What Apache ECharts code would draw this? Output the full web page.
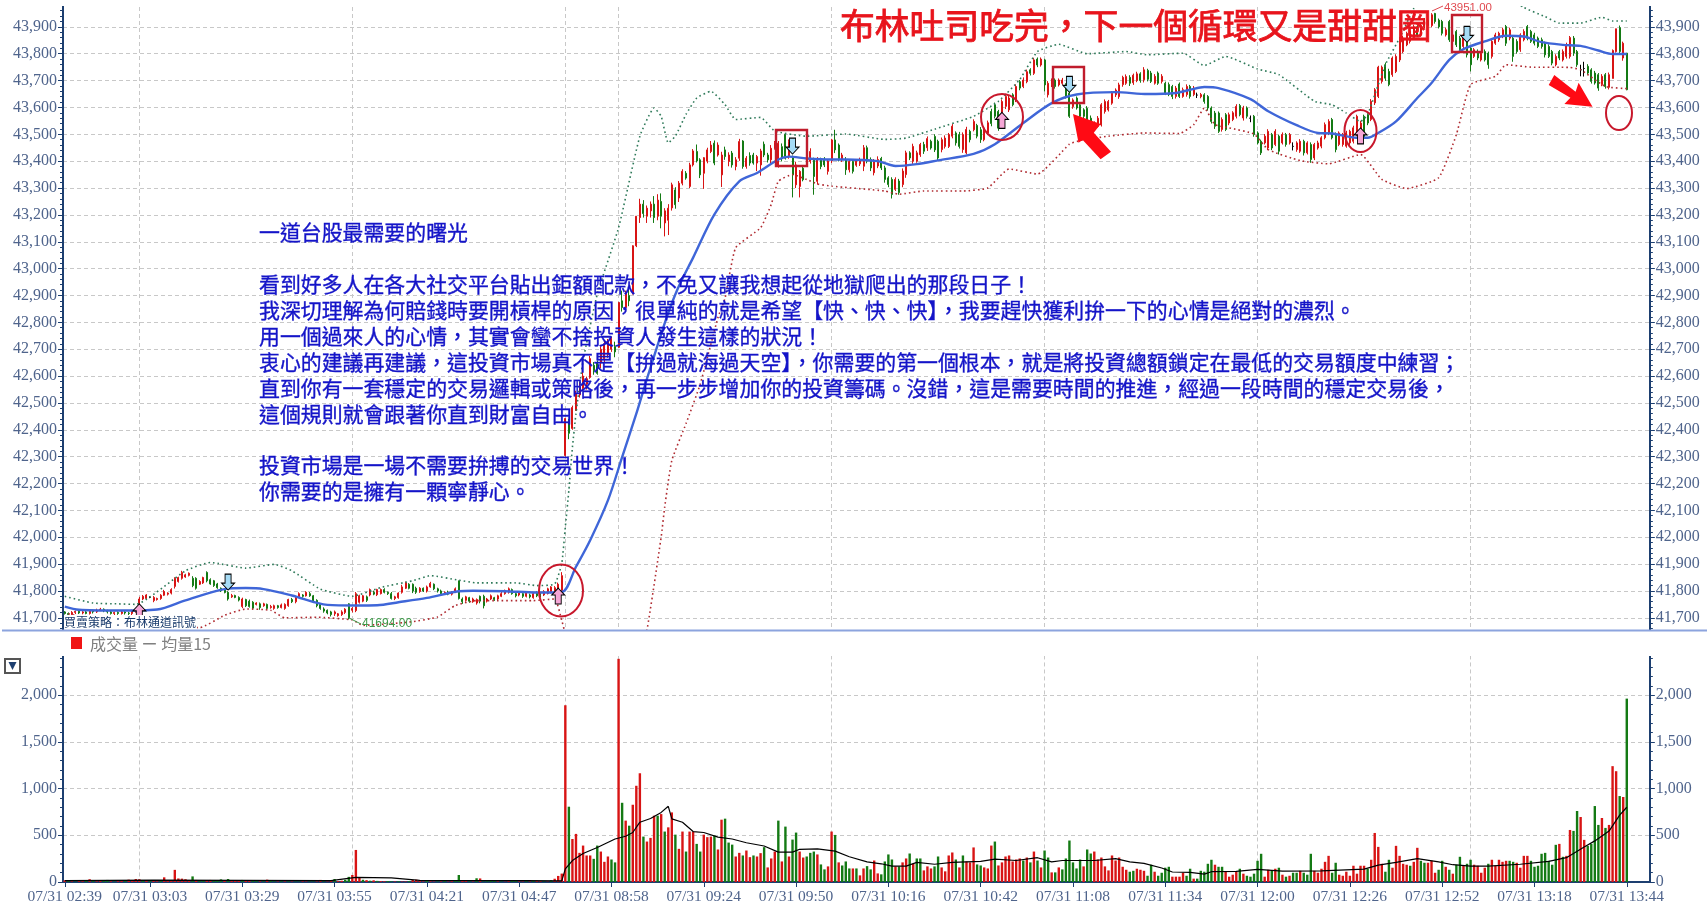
<!DOCTYPE html>
<html lang="zh-TW"><head><meta charset="utf-8">
<style>html,body{margin:0;padding:0;background:#fff}#c{width:1707px;height:905px}</style>
<script src="https://cdn.jsdelivr.net/npm/echarts@6/dist/echarts.min.js"></script>
</head><body><div id="c"></div>
<script>
const tickIndex=[0,24,50,76,102,128,154,180,206,232,258,284,310,336,362,388,414,440];
const tickLabels=['07/31 02:39','07/31 03:03','07/31 03:29','07/31 03:55','07/31 04:21','07/31 04:47','07/31 08:58','07/31 09:24','07/31 09:50','07/31 10:16','07/31 10:42','07/31 11:08','07/31 11:34','07/31 12:00','07/31 12:26','07/31 12:52','07/31 13:18','07/31 13:44'];
const hourIndex=[21,81,141,156,216,276,336,396];
const opens=[
41722,41716,41712,41720,41724,41718,41722,41716,41726,41722,
41728,41732,41726,41722,41716,41720,41716,41722,41718,41716,
41724,41733,41770,41772,41776,41764,41768,41772,41784,41788,
41792,41817,41835,41847,41852,41858,41847,41847,41825,41830,
41869,41842,41838,41826,41810,41806,41795,41778,41783,41776,
41742,41768,41762,41758,41750,41752,41745,41750,41738,41735,
41745,41738,41735,41745,41768,41760,41778,41785,41782,41790,
41782,41765,41750,41733,41728,41722,41715,41708,41712,41720,
41752,41728,41727,41758,41762,41778,41785,41795,41786,41790,
41805,41795,41790,41772,41775,41795,41810,41825,41825,41810,
41798,41810,41800,41815,41825,41808,41800,41790,41795,41788,
41795,41838,41770,41765,41775,41760,41755,41780,41780,41762,
41770,41775,41770,41780,41790,41795,41805,41790,41785,41790,
41780,41785,41775,41795,41790,41785,41790,41795,41790,41800,
41801,42304,42435,42405,42472,42530,42555,42570,42595,42640,
42650,42650,42665,42680,42700,42710,42707,42880,42855,42900,
42906,43085,43190,43240,43195,43215,43240,43195,43250,43170,
43180,43226,43293,43263,43318,43355,43306,43386,43436,43405,
43355,43400,43436,43467,43423,43349,43442,43399,43430,43380,
43411,43475,43380,43421,43423,43393,43386,43463,43423,43405,
43448,43386,43454,43500,43417,43417,43312,43306,43374,43467,
43399,43405,43325,43405,43405,43362,43401,43479,43460,43405,
43405,43368,43399,43385,43390,43381,43450,43406,43357,43382,
43410,43375,43338,43332,43295,43326,43313,43350,43431,43400,
43400,43424,43462,43450,43474,43492,43474,43443,43455,43455,
43493,43505,43499,43443,43431,43511,43517,43533,43517,43480,
43505,43585,43610,43585,43572,43604,43591,43647,43628,43696,
43678,43696,43740,43727,43780,43758,43777,43647,43684,43702,
43684,43690,43684,43653,43603,43635,43610,43591,43597,43560,
43520,43530,43535,43585,43591,43616,43647,43640,43685,43690,
43712,43692,43700,43725,43703,43738,43728,43690,43728,43697,
43690,43685,43678,43641,43687,43641,43648,43678,43648,43646,
43640,43647,43641,43598,43579,43579,43518,43573,43542,43555,
43567,43607,43561,43598,43560,43567,43505,43474,43468,43449,
43499,43462,43493,43468,43499,43468,43455,43443,43437,43474,
43431,43462,43412,43449,43456,43487,43505,43555,43499,43462,
43462,43456,43468,43474,43499,43487,43567,43573,43555,43617,
43641,43697,43759,43734,43722,43734,43777,43808,43833,43846,
43860,43900,43870,43900,43925,43905,43950,43925,43920,43870,
43920,43846,43883,43858,43827,43846,43821,43790,43808,43777,
43808,43802,43790,43839,43852,43864,43901,43858,43858,43846,
43815,43852,43901,43883,43870,43858,43852,43839,43827,43808,
43759,43808,43777,43790,43790,43858,43808,43740,43745,43753,
43740,43728,43722,43685,43722,43675,43708,43808,43897,43784,
43802];
const closes=[
41716,41712,41720,41724,41718,41722,41716,41726,41722,41728,
41732,41726,41722,41716,41720,41716,41722,41718,41716,41724,
41730,41770,41780,41785,41776,41776,41772,41784,41798,41792,
41805,41847,41850,41869,41860,41866,41820,41810,41835,41850,
41838,41826,41820,41812,41800,41794,41770,41783,41776,41766,
41770,41745,41742,41736,41755,41738,41752,41735,41742,41745,
41738,41748,41750,41768,41760,41778,41790,41780,41795,41782,
41760,41745,41735,41725,41718,41712,41722,41715,41722,41732,
41700,41735,41790,41782,41782,41765,41805,41788,41805,41805,
41795,41790,41772,41778,41792,41815,41830,41810,41800,41795,
41810,41800,41815,41828,41808,41800,41790,41795,41788,41795,
41808,41772,41760,41778,41762,41770,41768,41762,41745,41770,
41782,41768,41782,41790,41802,41808,41790,41782,41792,41780,
41792,41778,41790,41782,41782,41798,41808,41815,41812,41825,
41857,42442,42387,42483,42535,42560,42600,42590,42665,42620,
42610,42700,42720,42730,42740,42690,42874,42855,42910,42880,
43085,43195,43240,43205,43225,43240,43190,43255,43195,43215,
43225,43312,43238,43318,43362,43337,43386,43438,43401,43349,
43413,43442,43460,43393,43460,43423,43417,43423,43386,43405,
43473,43380,43411,43393,43393,43417,43438,43423,43405,43448,
43470,43467,43411,43411,43473,43349,43386,43362,43331,43411,
43436,43343,43405,43380,43386,43401,43479,43442,43405,43423,
43368,43399,43362,43400,43405,43450,43400,43375,43400,43406,
43375,43332,43313,43276,43332,43283,43363,43431,43412,43455,
43431,43462,43437,43484,43449,43442,43412,43480,43486,43499,
43530,43468,43455,43499,43518,43480,43548,43493,43480,43523,
43543,43540,43567,43523,43622,43641,43635,43610,43678,43672,
43702,43733,43727,43777,43758,43780,43684,43690,43702,43678,
43702,43702,43641,43567,43628,43598,43567,43567,43548,43530,
43540,43560,43610,43622,43622,43653,43665,43684,43712,43715,
43690,43720,43725,43700,43740,43705,43697,43716,43690,43716,
43654,43648,43641,43672,43641,43666,43678,43641,43672,43646,
43648,43622,43598,43548,43530,43511,43555,43518,43573,43580,
43604,43573,43598,43567,43560,43499,43468,43431,43493,43511,
43449,43511,43437,43499,43462,43499,43455,43468,43474,43431,
43468,43406,43462,43468,43487,43536,43548,43487,43443,43505,
43499,43505,43511,43524,43567,43542,43487,43542,43623,43666,
43750,43750,43709,43685,43784,43790,43852,43858,43876,43883,
43900,43870,43905,43925,43905,43945,43920,43900,43876,43889,
43852,43870,43833,43815,43870,43796,43759,43815,43784,43802,
43777,43759,43846,43870,43876,43889,43839,43889,43790,43808,
43870,43883,43858,43846,43839,43827,43827,43796,43790,43765,
43790,43784,43808,43833,43860,43802,43759,43740,43745,43728,
43697,43691,43672,43716,43678,43722,43812,43893,43808,43839,
43666];
const lowWick=[
4,5,3,6,4,5,3,4,6,4,3,5,6,4,8,5,4,6,10,6,
5,6,4,5,3,6,4,5,3,5,5,8,4,5,3,4,6,5,3,4,
6,3,5,4,4,3,6,4,3,5,6,5,4,5,4,8,4,5,4,5,
4,3,5,4,5,6,4,5,3,4,5,6,5,6,5,7,8,4,5,6,
6,8,6,5,4,6,5,4,5,3,4,5,4,6,4,5,3,4,8,6,
5,4,6,3,5,6,4,5,4,5,3,4,8,5,6,4,6,8,10,5,
4,5,6,3,4,5,4,6,5,6,4,6,4,5,6,4,3,4,6,3,
6,4,22,5,2,10,10,20,5,15,5,20,15,12,10,20,3,15,10,20,
2,5,20,15,25,25,20,15,45,50,55,10,15,15,8,6,6,6,6,12,
58,8,6,8,6,45,12,18,10,14,10,8,8,10,6,30,40,8,10,15,
5,10,12,5,8,84,12,41,6,8,8,68,12,10,8,12,8,12,6,8,
19,10,8,6,8,18,8,12,10,8,8,12,10,15,6,8,10,12,8,10,
6,8,10,12,6,8,10,10,8,6,8,10,8,12,6,10,6,8,12,6,
8,10,8,10,8,10,8,6,8,8,6,6,8,6,8,6,24,10,8,8,
6,6,8,6,8,6,10,8,8,10,5,5,6,8,6,6,8,8,8,6,
10,8,6,8,10,8,6,5,6,8,8,6,10,8,6,5,8,8,6,11,
6,8,10,8,10,6,8,6,8,6,8,6,10,8,15,8,6,8,6,8,
8,6,12,6,8,6,15,8,6,10,6,12,8,6,8,6,8,6,10,6,
8,6,10,8,6,8,10,8,6,8,6,8,10,6,8,6,8,6,5,8,
6,8,6,5,8,6,8,6,8,6,8,6,8,10,6,10,25,6,8,6,
6,15,8,6,8,6,10,8,20,8,8,6,8,6,8,6,8,10,6,8,
6,8,6,8,8,10,8,24,30,6,8,6,10,6,8,8,0,4,8,10,
2];
const highWick=[
3,4,5,3,6,4,5,3,4,6,5,3,4,6,3,4,5,3,4,6,
3,8,5,3,4,5,3,4,6,3,5,4,3,6,4,3,8,4,5,3,
4,5,3,4,3,5,4,6,3,4,5,3,6,4,3,5,4,3,6,4,
3,5,4,3,6,4,5,3,4,6,3,4,5,6,3,4,5,3,6,4,
2,5,6,4,3,5,4,6,3,4,5,3,6,4,3,8,5,4,3,6,
4,3,5,6,3,4,5,3,6,4,5,0,6,4,3,5,4,3,6,4,
5,3,4,6,3,5,4,6,3,4,6,5,3,4,6,5,4,3,6,6,
13,3,5,7,10,20,25,8,10,12,8,10,12,8,6,18,2,38,8,30,
2,1,20,15,10,10,30,22,30,10,15,8,10,8,8,8,8,7,26,6,
2,8,15,10,10,12,12,10,8,10,10,3,8,12,8,6,8,10,8,12,
5,8,12,3,8,4,12,5,8,8,12,8,10,8,10,6,4,38,6,8,
10,8,6,6,8,10,8,8,8,12,6,8,6,8,8,8,10,8,6,10,
8,6,10,8,6,8,6,8,10,6,8,6,10,8,10,6,8,6,10,6,
8,10,8,6,8,10,8,6,8,6,10,8,6,8,6,6,4,8,6,6,
6,8,6,8,6,6,8,6,8,10,8,8,6,8,6,8,6,8,6,8,
8,6,8,6,10,6,8,8,6,8,6,8,6,8,6,8,8,6,8,9,
6,6,5,6,8,6,8,6,8,6,8,6,8,6,10,5,6,6,8,8,
6,8,6,8,6,6,15,6,8,6,6,8,6,8,6,8,8,6,8,6,
6,8,6,8,6,8,6,5,8,6,5,6,8,10,6,8,6,8,6,6,
8,6,6,8,6,6,2,6,6,8,6,8,6,8,6,8,6,6,8,6,
8,6,8,8,6,8,6,8,6,8,6,8,6,6,8,6,8,6,8,6,
8,6,8,8,6,8,6,19,25,8,6,8,6,8,6,8,4,0,8,6,
1];
const volumes=[
18,12,8,6,10,9,14,30,10,8,12,20,22,8,6,9,12,10,25,14,
32,30,16,10,12,10,8,14,50,16,14,130,38,36,30,14,60,22,15,10,
14,22,12,18,28,20,32,20,14,18,22,12,14,10,9,8,8,25,10,7,
6,9,7,8,6,6,5,8,6,7,6,7,22,8,6,20,32,10,14,24,
55,75,343,50,24,20,14,18,12,9,8,10,7,6,8,5,6,9,22,25,
18,6,12,8,5,6,7,10,5,9,12,75,14,10,8,6,40,38,6,8,
10,12,8,6,4,10,16,18,8,6,9,7,12,14,10,8,6,18,35,65,
90,1892,806,460,515,312,390,284,284,248,
390,326,216,273,241,210,2389,848,657,603,
827,1030,1164,486,433,472,710,710,727,540,
585,745,507,355,540,326,540,540,408,326,
507,480,486,497,348,667,678,422,400,273,
312,284,337,266,284,273,309,373,156,252,
326,657,220,593,273,454,529,326,262,273,
312,326,295,188,135,167,540,504,210,177,
220,145,145,145,71,145,170,135,230,92,
82,220,295,241,167,167,210,252,305,195,
252,252,124,167,145,167,273,156,114,284,
316,241,156,284,220,210,370,188,177,156,
145,390,433,177,210,273,284,220,241,252,
230,262,210,326,230,156,337,262,103,103,
156,135,252,444,210,145,241,167,348,305,
326,241,262,167,124,284,230,262,163,131,
110,120,142,131,120,67,185,110,67,99,
153,163,57,57,57,99,67,142,36,36,
120,110,195,238,185,163,163,110,57,78,
110,142,89,67,57,89,227,302,57,131,
120,142,153,78,57,67,99,99,120,99,
78,302,120,99,142,216,280,99,206,78,
67,110,67,174,89,174,174,142,238,525,
376,195,110,238,153,387,280,195,185,174,
216,366,227,206,206,227,99,131,227,163,
131,89,185,270,174,195,238,185,174,99,
153,195,238,174,238,216,227,227,216,206,
153,280,280,227,163,174,302,312,227,185,
398,408,270,280,557,547,760,696,451,387,
408,813,611,685,579,611,1240,1186,920,910,
1963];
const volumeSides=
"RGRGRRGRGRRGGRGRRGRRRRGRGRRGRRRRRRRRGRGG"+"RRGGGRGRRRGRRGGRGRGG"+"RGRGRGGRRGGRRGRRGRRG"+"GRRRGRGRGRRGGRGRRGRR"+"RRGRRGRGRRGGRRGRGRGG"+"GGRGRRGGRRGRGRRGRGRR"+
"RRGRRRRRRGGRRRGGRGRG"+"RRRGRRRGRGRRGRRGRRGG"+"RRRGRRGGGRRGRRGRRGRR"+"RGRGRGGRRGGGRGGRRGRG"+"GGRGRRGGRRGGGGRGRRGR"+"GGRRRGGRRRRGRGRRRGGR"+"RRGRRRRRRRGRGRGRGGRG"+"RGGGGGGRGGRRRRRRRRRR"+
"GGRRRGGRGGGGRRRRGGRG"+"GGGGRGGRRRRGRGGGGGRR"+"GRGRGRGGRGGGRRRRRGGR"+"RRRRRRRGRRRRGGRRRRRG"+"RRGGRRRGGRGRGGRGGRRR"+"RGRRRRRGGRRRRGGGGGGG"+"GRGRRGGRRGGGGRGRRRGR"+"G";
const upperPoints=[[0,41780],[8,41755],[15,41752],[20,41750],[34,41875],[41,41906],[51,41885],[59,41899],[64,41875],[72,41807],[81,41780],[89,41813],[98,41838],[103,41857],[111,41840],[116,41830],[127,41830],[133,41820],[138,41826],[140,41903],[141,42038],[142,42175],[143,42335],[144,42460],[146,42657],[150,42905],[156,43152],[162,43493],[166,43598],[168,43567],[170,43468],[172,43493],[175,43574],[178,43635],[182,43660],[186,43610],[189,43555],[196,43563],[200,43512],[209,43493],[220,43501],[231,43481],[237,43486],[245,43519],[256,43567],[263,43623],[269,43704],[274,43808],[280,43835],[288,43800],[299,43808],[305,43796],[315,43802],[321,43756],[327,43790],[336,43743],[342,43722],[352,43623],[357,43610],[361,43579],[365,43548],[367,43573],[372,43759],[376,43858],[380,43969],[384,44060],[396,44100],[406,44020],[411,43972],[417,43938],[421,43914],[427,43914],[433,43936],[436,43922],[440,43922]];
const midPoints=[[0,41742],[4,41730],[15,41727],[26,41731],[34,41765],[45,41807],[51,41811],[56,41807],[64,41783],[74,41748],[82,41746],[88,41747],[94,41758],[102,41774],[111,41799],[115,41801],[124,41799],[133,41794],[140,41796],[144,41890],[148,41989],[153,42137],[157,42298],[161,42460],[164,42590],[167,42715],[170,42835],[173,42935],[177,43041],[183,43202],[190,43325],[195,43356],[201,43406],[204,43417],[209,43410],[216,43406],[220,43406],[229,43400],[234,43382],[240,43389],[246,43403],[256,43427],[262,43463],[270,43542],[278,43616],[285,43648],[296,43657],[305,43650],[313,43654],[317,43666],[321,43676],[325,43672],[334,43631],[339,43586],[347,43534],[353,43505],[357,43503],[364,43487],[367,43487],[370,43505],[375,43548],[381,43635],[385,43691],[390,43777],[394,43817],[400,43846],[406,43867],[411,43864],[416,43843],[422,43833],[427,43829],[432,43812],[436,43799],[440,43799]];
const lowerPoints=[[1,41715],[5,41703],[20,41690],[30,41680],[38,41663],[45,41709],[51,41733],[58,41728],[62,41700],[71,41702],[81,41692],[84,41672],[97,41684],[105,41703],[110,41746],[116,41764],[132,41764],[138,41770],[140,41690],[141,41640],[145,41450],[160,41450],[164,41655],[168,42001],[169,42113],[171,42286],[175,42423],[179,42570],[184,42818],[186,42890],[189,43078],[196,43152],[199,43239],[201,43325],[205,43350],[209,43332],[212,43315],[216,43307],[231,43289],[235,43277],[242,43289],[253,43289],[260,43300],[266,43371],[274,43352],[283,43463],[286,43477],[294,43493],[304,43505],[314,43503],[318,43536],[321,43598],[324,43536],[328,43524],[335,43501],[339,43443],[348,43402],[356,43390],[365,43425],[371,43332],[378,43298],[387,43338],[392,43499],[396,43685],[403,43716],[406,43759],[413,43750],[424,43749],[427,43740],[434,43678],[440,43670]];
const volumeAvgPoints=[[0,15],[25,20],[50,18],[75,15],[82,50],[92,45],[100,18],[130,15],[140,12],[141,140],[143,230],[146,305],[150,370],[155,460],[158,490],[160,530],[162,640],[165,680],[168,745],[170,810],[171,675],[174,640],[177,540],[180,530],[184,480],[188,460],[192,420],[197,385],[201,320],[205,320],[207,350],[212,355],[217,330],[221,270],[226,215],[230,195],[233,170],[237,170],[240,210],[245,190],[250,210],[258,220],[262,245],[268,230],[274,260],[278,215],[281,230],[290,230],[296,250],[300,215],[304,200],[309,150],[312,107],[317,103],[321,85],[323,110],[330,113],[336,135],[343,117],[354,120],[366,138],[370,180],[375,210],[381,250],[387,215],[391,185],[396,170],[401,170],[410,190],[418,220],[423,260],[428,375],[431,440],[435,545],[438,715],[440,800]];
const buySignalIndex=[21,139,264,365];
const buySignalPrice=[41722,41781,43552,43494];
const sellSignalIndex=[46,205,283,395];
const sellSignalPrice=[41833,43456,43686,43872];
const noteLines=['一道台股最需要的曙光','','看到好多人在各大社交平台貼出鉅額配款，不免又讓我想起從地獄爬出的那段日子！','我深切理解為何賠錢時要開槓桿的原因，很單純的就是希望【快、快、快】，我要趕快獲利拚一下的心情是絕對的濃烈。','用一個過來人的心情，其實會蠻不捨投資人發生這樣的狀況！','衷心的建議再建議，這投資市場真不是【拚過就海過天空】，你需要的第一個根本，就是將投資總額鎖定在最低的交易額度中練習；','直到你有一套穩定的交易邏輯或策略後，再一步步增加你的投資籌碼。沒錯，這是需要時間的推進，經過一段時間的穩定交易後，','這個規則就會跟著你直到財富自由。','','投資市場是一場不需要拚搏的交易世界！','你需要的是擁有一顆寧靜心。'];
const headline='布林吐司吃完，下一個循環又是甜甜圈';

const RED='#d81414',GREEN='#147a14',AXIS='#1d3f70',LABEL='#4f648c';
const CJK='"Noto Sans CJK TC"';
const SERIF='"Liberation Serif",serif';
const N=447;
const categories=Array.from({length:N},(_,i)=>{const k=tickIndex.indexOf(i);return k>=0?tickLabels[k]:String(i)});
const candleRows=opens.map((o,i)=>[o,closes[i],Math.min(o,closes[i])-lowWick[i],Math.max(o,closes[i])+highWick[i]]);
const volumeRows=volumes.map((v,i)=>({value:v,itemStyle:{color:volumeSides[i]==='R'?RED:GREEN}}));
const isTick=i=>tickIndex.includes(i), isHour=i=>hourIndex.includes(i);
const grid0={left:63,top:-1.63,width:1586.85,height:646.3};
const grid1={left:63,top:648.45,width:1586.85,height:234.25};
const dash={type:[4,3],color:'#c8c8c8',width:1};
const fmt=v=>Number(v).toLocaleString('en-US');
const yCommon={type:'value',axisLine:{show:true,lineStyle:{color:AXIS,width:2}},axisTick:{show:true,length:5,lineStyle:{color:AXIS}},minorTick:{show:true,splitNumber:5,length:3,lineStyle:{color:AXIS}},axisLabel:{color:LABEL,fontFamily:SERIF,fontSize:16,margin:6,formatter:fmt,showMinLabel:true,showMaxLabel:false}};
const upArrow='path://M0,-8L6.5,-1L3,-1L3,8L-3,8L-3,-1L-6.5,-1Z';
const downArrow='path://M-3,-8L3,-8L3,1L6.5,1L0,8L-6.5,1L-3,1Z';
const marks=[
 ...buySignalIndex.map((x,i)=>({coord:[x,buySignalPrice[i]],symbol:upArrow,itemStyle:{color:'#f6a6d6',borderColor:'#000',borderWidth:1}})),
 ...sellSignalIndex.map((x,i)=>({coord:[x,sellSignalPrice[i]],symbol:downArrow,itemStyle:{color:'#a6dcf6',borderColor:'#000',borderWidth:1}}))
];
const ell=(cx,cy,rx,ry)=>({type:'ellipse',z:103,shape:{cx,cy,rx,ry},style:{fill:null,stroke:'#c8182c',lineWidth:2}});
const rc=(x1,y1,x2,y2)=>({type:'rect',z:103,shape:{x:x1,y:y1,width:x2-x1,height:y2-y1},style:{fill:null,stroke:'#c01c2c',lineWidth:2.4}});
const poly=pts=>({type:'polygon',z:104,shape:{points:pts},style:{fill:'#ff0a14'}});
const txt=(x,y,t,font,fill,extra)=>({type:'text',z:105,x,y,style:Object.assign({text:t,font,fill,textVerticalAlign:'middle'},extra||{})});

const option={
 animation:false,backgroundColor:'#fff',
 grid:[grid0,grid1],
 xAxis:[
  {type:'category',gridIndex:0,data:categories,boundaryGap:true,axisLine:{show:false},axisTick:{show:false},axisLabel:{show:false},
   splitLine:{show:true,alignWithLabel:true,interval:isHour,lineStyle:dash}},
  {type:'category',gridIndex:1,data:categories,boundaryGap:true,axisLine:{show:true,lineStyle:{color:AXIS,width:2}},
   axisTick:{show:true,alignWithLabel:true,interval:isTick,length:5,lineStyle:{color:AXIS}},
   axisLabel:{show:true,interval:isTick,color:LABEL,fontFamily:SERIF,fontSize:15.5,margin:7,hideOverlap:false},
   splitLine:{show:true,alignWithLabel:true,interval:isHour,lineStyle:dash}}
 ],
 yAxis:[
  Object.assign({},yCommon,{gridIndex:0,position:'left',min:41600,max:44000,interval:100,splitLine:{show:true,lineStyle:dash}}),
  Object.assign({},yCommon,{gridIndex:0,position:'right',min:41600,max:44000,interval:100,splitLine:{show:false}}),
  Object.assign({},yCommon,{gridIndex:1,position:'left',min:0,max:2500,interval:500,splitLine:{show:true,lineStyle:dash}}),
  Object.assign({},yCommon,{gridIndex:1,position:'right',min:0,max:2500,interval:500,splitLine:{show:false}})
 ],
 series:[
  {type:'candlestick',name:'K',xAxisIndex:0,yAxisIndex:0,data:candleRows,barWidth:1.5,z:3,progressive:0,
   itemStyle:{color:RED,color0:GREEN,borderColor:RED,borderColor0:GREEN,borderColorDoji:'#000',borderWidth:1},
   markPoint:{symbolSize:[13,16],label:{show:false},silent:true,z:6,data:marks,animation:false}},
  {type:'line',name:'上軌',xAxisIndex:0,yAxisIndex:0,data:upperPoints,showSymbol:false,smooth:0.15,z:4,lineStyle:{color:'#2f7a5a',width:1.6,type:[1.6,3]}},
  {type:'line',name:'下軌',xAxisIndex:0,yAxisIndex:0,data:lowerPoints,showSymbol:false,smooth:0.15,z:4,lineStyle:{color:'#b02a30',width:1.6,type:[1.6,3]}},
  {type:'line',name:'中軌',xAxisIndex:0,yAxisIndex:0,data:midPoints,showSymbol:false,smooth:0.3,z:5,lineStyle:{color:'#3f66d8',width:2.4}},
  {type:'bar',name:'成交量',xAxisIndex:1,yAxisIndex:2,data:volumeRows,barWidth:2.4,z:3},
  {type:'line',name:'均量15',xAxisIndex:1,yAxisIndex:2,data:volumeAvgPoints,showSymbol:false,z:5,lineStyle:{color:'#000',width:1.2}}
 ],
 graphic:{elements:[
  {type:'rect',z:100,shape:{x:0,y:630,width:1707,height:26},style:{fill:'#fff'}},
  {type:'rect',z:100,shape:{x:0,y:0,width:1707,height:6},style:{fill:'#fff'}},
  {type:'rect',z:100,shape:{x:64,y:615,width:133,height:15},style:{fill:'#fff'}},
  {type:'line',z:101,shape:{x1:2,y1:630.5,x2:1707,y2:630.5},style:{stroke:'#8ca4de',lineWidth:2}},
  {type:'rect',z:101,shape:{x:71,y:637,width:11,height:12},style:{fill:'#f01414'}},
  txt(90,644,'成交量 ー 均量15','16px '+CJK,'#808080'),
  {type:'rect',z:101,shape:{x:5,y:659,width:15,height:14},style:{fill:'#fff',stroke:'#555',lineWidth:2}},
  {type:'polygon',z:102,shape:{points:[[8.5,662],[16.5,662],[12.5,670]]},style:{fill:'#1d3f70'}},
  txt(64,622,'買賣策略：布林通道訊號','12px '+CJK,'#16386a'),
  txt(362,623.5,'41694.00','12px "Liberation Sans",sans-serif','#3f9a4a'),
  {type:'line',z:102,shape:{x1:349,y1:618,x2:361,y2:624},style:{stroke:'#3f9a4a',lineWidth:1}},
  txt(1444,7.5,'43951.00','11.5px "Liberation Sans",sans-serif','#e04a50'),
  {type:'line',z:102,shape:{x1:1432,y1:11,x2:1443,y2:6},style:{stroke:'#e04a50',lineWidth:1}},
  ell(561,590.5,22,26),ell(1002,117,21,23),ell(1360.5,131,16,21),ell(1619,113,13,17),
  rc(776,130,807,166),rc(1053,67,1084,103),rc(1452,15,1482,52),
  poly([[1073,114],[1100.6,124],[1093.8,132.7],[1111,151.7],[1100.6,159.3],[1082.7,140],[1078.5,142.7]]),
  poly([[1548.7,85],[1554.3,75],[1575.6,91.7],[1578.6,82.7],[1592.5,106.7],[1564.4,104],[1570.4,97.7]]),
  {type:'text',z:105,x:259,y:219,style:{text:noteLines.join('\n'),font:'20.9px '+CJK,fill:'#1414c8',stroke:'#1414c8',lineWidth:0.35,lineHeight:25.95,textVerticalAlign:'top'}},
  txt(840,26,headline,'34.8px '+CJK,'#e8141c',{stroke:'#e8141c',lineWidth:0.8})
 ]}
};
echarts.init(document.getElementById('c'),null,{renderer:'canvas'}).setOption(option);
</script></body></html>
